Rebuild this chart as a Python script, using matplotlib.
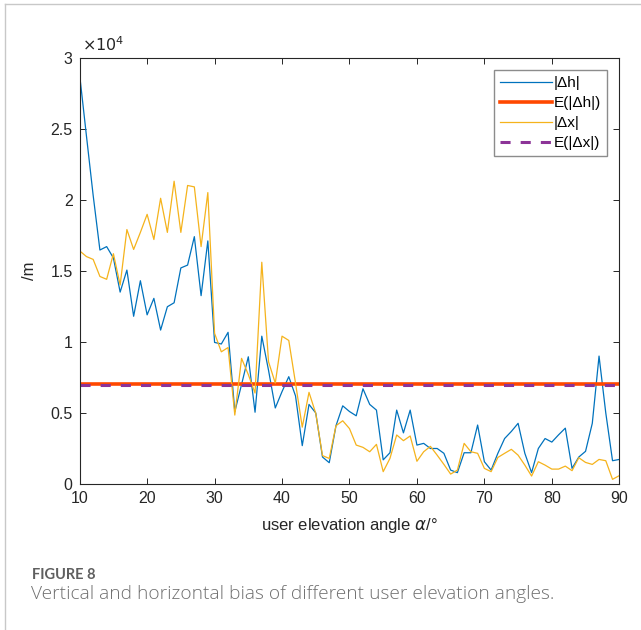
import numpy as np
import matplotlib.pyplot as plt
from matplotlib.lines import Line2D
from matplotlib.ticker import FuncFormatter

# elevation angle, degrees
angle = np.arange(10, 91)

# |dh| vertical bias, metres
dh = [28760, 24500, 20300, 16460, 16700, 15900, 13500, 15050, 11800, 14300,
      11900, 13060, 10830, 12470, 12750, 15200, 15400, 17400, 13250, 17100,
      9960, 9850, 10670, 5090, 7000, 8950, 5050, 10400, 8000, 5350,
      6500, 7550, 6200, 2700, 5600, 5000, 1900, 1500, 4100, 5500,
      5100, 4800, 6700, 5600, 5200, 1700, 2200, 5200, 3600, 5200,
      2740, 2860, 2500, 2500, 2160, 980, 800, 2200, 2200, 4150,
      1570, 980, 2160, 3200, 3700, 4270, 2160, 800, 2500, 3200,
      2950, 3460, 3930, 1100, 1900, 2300, 4270, 9000, 5000, 1640,
      1730]

# |dx| horizontal bias, metres
dx = [16400, 16000, 15800, 14600, 14400, 16200, 14000, 17900, 16500, 17700,
      18970, 17200, 20100, 17700, 21300, 17700, 21000, 20900, 16700, 20500,
      10600, 9300, 9600, 4850, 8840, 7700, 6400, 15600, 8600, 7100,
      10400, 10100, 7100, 4000, 6450, 4970, 2000, 1800, 4100, 4450,
      3900, 2740, 2580, 2270, 2790, 870, 1800, 3450, 3050, 3380,
      1600, 2270, 2650, 2030, 1380, 700, 980, 2860, 2270, 2160,
      1100, 870, 1870, 2160, 2440, 2030, 1330, 560, 1570, 1330,
      1050, 1050, 1260, 940, 1850, 1520, 1380, 1730, 1640, 330,
      590]

mean_dh = 7060
mean_dx = 7000

fig = plt.figure(figsize=(6.41, 6.30), dpi=100)
ax = fig.add_axes([0.1243, 0.2317, 0.8418, 0.6770])

ax.plot(angle, dh, color='#0072BD', lw=0.9, label='|Δh|')
ax.axhline(mean_dh, color='#FF4800', lw=2.6, label='E(|Δh|)')
ax.plot(angle, dx, color='#F5B31C', lw=0.9, label='|Δx|')
ax.axhline(mean_dx, color='#8C3397', lw=2.2, dashes=(3.3, 3.3), label='E(|Δx|)')

ax.set_xlim(10, 90)
ax.set_ylim(0, 30000)
ax.set_xticks(np.arange(10, 91, 10))
ax.set_yticks(np.arange(0, 30001, 5000))
ax.yaxis.set_major_formatter(FuncFormatter(lambda v, p: '%g' % (v / 1e4)))

fnt = 'Liberation Sans'
ax.tick_params(direction='in', length=4, width=0.7, top=True, right=True,
               labelsize=11.5, colors='#262626', pad=5)
for lab in ax.get_xticklabels() + ax.get_yticklabels():
    lab.set_fontfamily(fnt)
for s in ax.spines.values():
    s.set_linewidth(0.8)
    s.set_color('#262626')

ax.set_xlabel('user elevation angle $\\alpha$/°', fontsize=12, family=fnt,
              color='#262626', labelpad=7)
ax.set_ylabel('/m', fontsize=12, family=fnt, color='#262626', labelpad=10)
ax.text(0.004, 1.008, '$\\times10^{4}$', transform=ax.transAxes, fontsize=11.5,
        ha='left', va='bottom', color='#262626')

leg = ax.legend(loc='upper right', bbox_to_anchor=(0.978, 0.971),
                prop={'family': fnt, 'size': 11}, frameon=True, fancybox=False,
                handlelength=3.4, handletextpad=0.15, labelspacing=0.4,
                borderpad=0.4, borderaxespad=0)
leg.get_frame().set_edgecolor('#707070')
leg.get_frame().set_linewidth(1.0)

# caption
fig.text(32 / 641, 1 - 575 / 630, 'FIGURE 8', fontsize=10.5, family='Lato',
         weight='bold', color='#5f5f5f', va='center')
fig.text(31 / 641, 1 - 594 / 630,
         'Vertical and horizontal bias of different user elevation angles.',
         fontsize=13.8, family='Open Sans', weight='light', color='#707070',
         va='center')

# page frame
fig.add_artist(Line2D([5 / 641, 5 / 641], [0, 1 - 4 / 630], color='#c8c8c8', lw=1))
fig.add_artist(Line2D([5 / 641, 1], [1 - 4 / 630, 1 - 4 / 630], color='#c8c8c8', lw=1))

fig.savefig('out.png', dpi=100)
